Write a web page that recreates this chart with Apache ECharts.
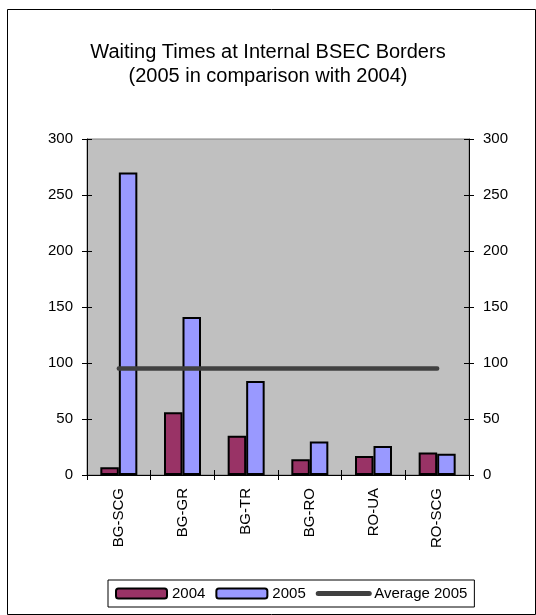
<!DOCTYPE html>
<html>
<head>
<meta charset="utf-8">
<script src="https://cdn.jsdelivr.net/npm/echarts@6/dist/echarts.min.js"></script>
<style>
html,body{margin:0;padding:0;background:#fff;}
#chart{width:536px;height:615px;}
</style>
</head>
<body>
<div id="chart"></div>
<script>
const categories = ['BG-SCG', 'BG-GR', 'BG-TR', 'BG-RO', 'RO-UA', 'RO-SCG'];
const values2004 = [7, 56, 35, 14, 17, 20];
const values2005 = [270, 141, 84, 30, 26, 19];
const average2005 = [95, 95, 95, 95, 95, 95];
const yMin = 0, yMax = 300, yInterval = 50;

const FONT = 'Liberation Sans, Arial, sans-serif';
const chart = echarts.init(document.getElementById('chart'), null, {renderer: 'canvas'});

function valueAxis(pos, inside, showLabel) {
  return {
    type: 'value', position: pos, min: yMin, max: yMax, interval: yInterval,
    axisLine: {show: !inside, lineStyle: {color: '#000', width: 1}},
    axisTick: {show: true, inside: inside, length: 5, lineStyle: {color: '#000', width: 1}},
    axisLabel: {show: showLabel, margin: 14, fontSize: 15, color: '#000', fontFamily: FONT},
    splitLine: {show: false}
  };
}

chart.setOption({
  animation: false,
  backgroundColor: '#fff',
  textStyle: {fontFamily: FONT},
  graphic: [{
    type: 'rect', silent: true, z: -10,
    shape: {x: 7.5, y: 9.5, width: 528, height: 605},
    style: {fill: 'none', stroke: '#000', lineWidth: 1}
  }],
  title: {
    text: 'Waiting Times at Internal BSEC Borders\n(2005 in comparison with 2004)',
    left: 'center', top: 35,
    textStyle: {fontSize: 20, fontWeight: 'normal', color: '#000', lineHeight: 24, fontFamily: FONT, align: 'center'}
  },
  legend: {
    left: 108, top: 580,
    padding: [6, 7, 6, 7],
    borderColor: '#000', borderWidth: 1,
    itemWidth: 51, itemHeight: 10, itemGap: 10,
    textStyle: {fontSize: 15, color: '#000', fontFamily: FONT},
    data: [
      {name: '2004', itemStyle: {borderWidth: 2, borderColor: '#000'}},
      {name: '2005', itemStyle: {borderWidth: 2, borderColor: '#000'}},
      {name: 'Average 2005', itemStyle: {opacity: 0}, lineStyle: {width: 5, color: '#404040', cap: 'round'}}
    ]
  },
  grid: {
    left: 87, right: 67, top: 139, bottom: 140,
    show: true, backgroundColor: '#C0C0C0', borderColor: '#808080', borderWidth: 1
  },
  xAxis: [{
    type: 'category', data: categories, position: 'bottom',
    axisLine: {show: true, lineStyle: {color: '#000', width: 1}},
    axisTick: {show: true, inside: false, length: 5, lineStyle: {color: '#000'}},
    axisLabel: {rotate: 90, margin: 13, fontSize: 15, color: '#000', fontFamily: FONT},
    splitLine: {show: false}
  }, {
    type: 'category', data: categories, position: 'bottom', offset: 0,
    axisLine: {show: false},
    axisTick: {show: true, inside: true, length: 5, lineStyle: {color: '#000'}},
    axisLabel: {show: false},
    splitLine: {show: false}
  }],
  yAxis: [
    valueAxis('left', false, true),
    valueAxis('right', false, true),
    valueAxis('left', true, false),
    valueAxis('right', true, false)
  ],
  series: [{
    name: '2004', type: 'bar', data: values2004, barWidth: 18.5, barGap: '0%',
    itemStyle: {color: '#993366', borderColor: '#000', borderWidth: 2}
  }, {
    name: '2005', type: 'bar', data: values2005, barWidth: 18.5, barGap: '0%',
    itemStyle: {color: '#9999FF', borderColor: '#000', borderWidth: 2}
  }, {
    name: 'Average 2005', type: 'line', data: average2005, yAxisIndex: 1,
    symbol: 'none', z: 5,
    lineStyle: {color: '#404040', width: 4.5, cap: 'round'},
    itemStyle: {color: '#404040'}
  }]
});
</script>
</body>
</html>
